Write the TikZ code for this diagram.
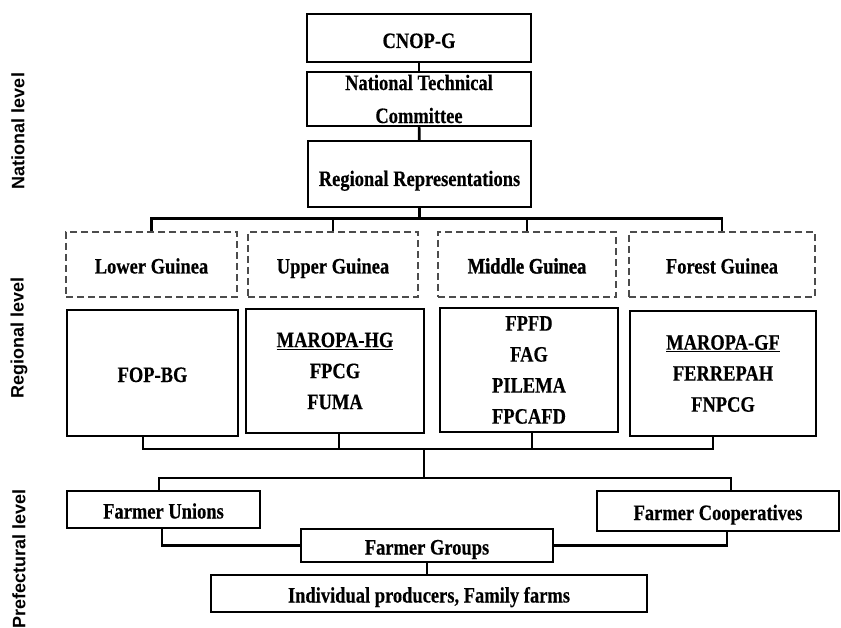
\documentclass[tikz,border=0pt]{standalone}
\usepackage{fontspec}
\setmainfont{Liberation Serif}[FakeStretch=0.84,FakeBold=0.4]
\newfontfamily\levelfont{Liberation Sans}
\newfontfamily\heavyfont{Liberation Serif}[FakeStretch=0.84,FakeBold=1.6]
\usepackage{tikz}

\begin{document}
\begin{tikzpicture}[x=1pt, y=-1pt,
    orgbox/.style={draw, line width=1.6pt, inner sep=0pt, align=center,
        font=\fontsize{22}{31}\selectfont\bfseries},
    oneline/.style={text height=18pt, text depth=0pt},
    regionbox/.style={orgbox, oneline, draw=black!70, line width=1.3pt, dash pattern=on 7pt off 4pt},
    link/.style={line width=2.6pt},
    levellabel/.style={rotate=90, font=\levelfont\fontsize{18}{20}\selectfont\bfseries}]

    \useasboundingbox (0,0) rectangle (841,628);

    % National level
    \node[orgbox, oneline, text height=20pt, minimum width=224, minimum height=48] (cnop) at (419,38) {CNOP-G};
    \node[orgbox, minimum width=224, minimum height=54,
        font=\fontsize{22}{33}\selectfont\bfseries] (ntc) at (419,99) {National Technical\\Committee};
    \node[orgbox, oneline, text height=24pt, minimum width=223, minimum height=66] (rr) at (419.5,174) {Regional Representations};

    \draw[link] (cnop) -- (ntc);
    \draw[link] (ntc) -- (rr);
    \draw[link] (rr.south) -- ++(0,11) coordinate (rbus);

    % Regions (dashed)
    \node[regionbox, minimum width=171, minimum height=65] (lower) at (151.5,264.5) {Lower Guinea};
    \node[regionbox, minimum width=170, minimum height=65] (upper) at (333,264.5) {Upper Guinea};
    \node[regionbox, minimum width=178, minimum height=65] (middle) at (527,264.5) {\heavyfont Middle Guinea};
    \node[regionbox, minimum width=186, minimum height=65] (forest) at (722,264.5) {Forest Guinea};

    \draw[link] (lower.north) |- (rbus) -| (forest.north);
    \draw[link] (upper.north) |- (rbus);
    \draw[link] (middle.north) |- (rbus);

    % Regional federations
    \node[orgbox, oneline, minimum width=171, minimum height=126] (lowerorg) at (152.5,373) {FOP-BG};
    \node[orgbox, minimum width=178, minimum height=124] (upperorg) at (335,371) {\underline{MAROPA-HG}\\FPCG\\FUMA};
    \node[orgbox, minimum width=178, minimum height=124] (middleorg) at (529,370) {FPFD\\FAG\\PILEMA\\FPCAFD};
    \node[orgbox, minimum width=186, minimum height=125] (forestorg) at (723,373.5) {\underline{MAROPA-GF}\\FERREPAH\\FNPCG};

    \coordinate (mbus) at (424,449);
    \draw[link] ([xshift=-9.5pt]lowerorg.south) |- (mbus);
    \draw[link] ([xshift=4pt]upperorg.south) |- (mbus);
    \draw[link] ([xshift=3pt]middleorg.south) |- (mbus);
    \draw[link] ([xshift=-10pt]forestorg.south) |- (mbus);
    \draw[link] (mbus) -- ++(0,29) coordinate (pbus);

    % Prefectural level
    \node[orgbox, oneline, minimum width=193, minimum height=37] (unions) at (163.5,509.5) {Farmer Unions};
    \node[orgbox, oneline, minimum width=242, minimum height=40] (coops) at (718,511) {Farmer Cooperatives};
    \node[orgbox, oneline, minimum width=252, minimum height=33] (groups) at (427,545.5) {Farmer Groups};
    \node[orgbox, oneline, minimum width=436, minimum height=37] (producers) at (429,593.5) {Individual producers, Family farms};

    \draw[link] ([xshift=-4.5pt]unions.north) |- (pbus);
    \draw[link] ([xshift=13pt]coops.north) |- (pbus);
    \draw[link] ([xshift=-1.5pt]unions.south) |- (groups.west);
    \draw[link] ([xshift=9pt]coops.south) |- (groups.east);
    \draw[link] (groups.south) -- (groups.south |- producers.north);

    % Level labels
    \node[levellabel] (national) at (18,131) {National level};
    \node[levellabel] (regional) at (19,338) {Regional level};
    \node[levellabel] (prefectural) at (19,559) {Prefectural level};

\end{tikzpicture}
\end{document}
